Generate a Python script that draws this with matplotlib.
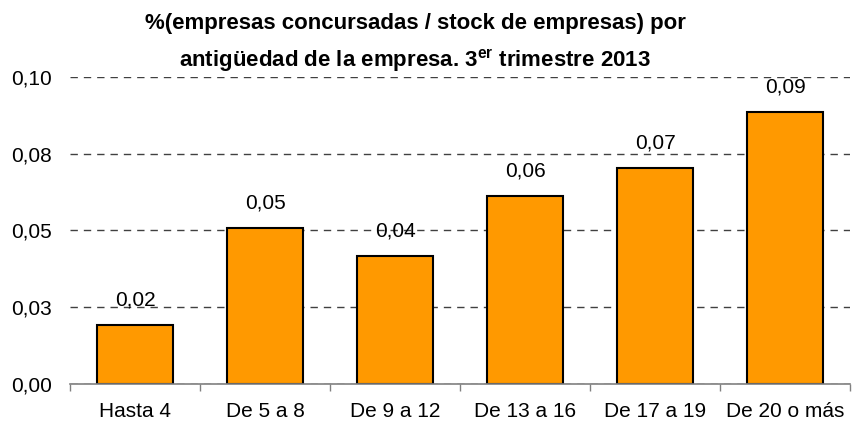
import numpy as np
import matplotlib
matplotlib.use('Agg')
import matplotlib.pyplot as plt

categories = ['Hasta 4', 'De 5 a 8', 'De 9 a 12', 'De 13 a 16', 'De 17 a 19', 'De 20 o más']
values = [0.0192, 0.0507, 0.0418, 0.0612, 0.0704, 0.0887]
value_labels = ['0,02', '0,05', '0,04', '0,06', '0,07', '0,09']
yticks = [0.0, 0.025, 0.05, 0.075, 0.1]
ytick_labels = ['0,00', '0,03', '0,05', '0,08', '0,10']

plt.rcParams['font.family'] = 'Liberation Sans'
plt.rcParams['mathtext.fontset'] = 'custom'
plt.rcParams['mathtext.rm'] = 'Liberation Sans:bold'
plt.rcParams['mathtext.bf'] = 'Liberation Sans:bold'

W, H = 852, 423
fig = plt.figure(figsize=(W / 100, H / 100), dpi=100)
ax = fig.add_axes([70 / W, 1 - 384 / H, 780 / W, 307 / H])

x = np.arange(len(categories))
bars = ax.bar(x, values, width=0.59, color='#FF9900', edgecolor='black',
              linewidth=1.5, zorder=3)

# value labels above the bars
for xi, v, lab in zip(x, values, value_labels):
    ax.annotate(lab, (xi, v), xytext=(0, 18), textcoords='offset points',
                ha='center', va='center', fontsize=15, zorder=4)

ax.set_xlim(-0.5, len(categories) - 0.5)
ax.set_ylim(0, 0.1)
ax.set_yticks(yticks)
ax.set_yticklabels(ytick_labels, fontsize=15)
ax.tick_params(axis='y', length=0, pad=13)

ax.set_xticks(x)
ax.set_xticklabels(categories, fontsize=15)
ax.set_xticks(np.arange(-0.5, len(categories), 1), minor=True)
ax.tick_params(axis='x', which='major', length=0, pad=13)
ax.tick_params(axis='x', which='minor', length=5, width=1, color='#808080',
               direction='out')

ax.yaxis.grid(True, color='#404040', linewidth=1, linestyle=(0, (5.3, 4.3)),
              zorder=1)
ax.set_axisbelow(True)
for s in ['top', 'right', 'left']:
    ax.spines[s].set_visible(False)
ax.spines['bottom'].set_color('#808080')
ax.spines['bottom'].set_linewidth(1.2)
ax.spines['bottom'].set_zorder(5)

fig.text(415 / W, 1 - 29 / H,
         '%(empresas concursadas / stock de empresas) por',
         ha='center', va='baseline', fontsize=16, fontweight='bold')
fig.text(415 / W, 1 - 67 / H,
         r'antigüedad de la empresa. 3$^{\mathbf{er}}$ trimestre 2013',
         ha='center', va='baseline', fontsize=16, fontweight='bold')

fig.savefig('out.png', dpi=100)
